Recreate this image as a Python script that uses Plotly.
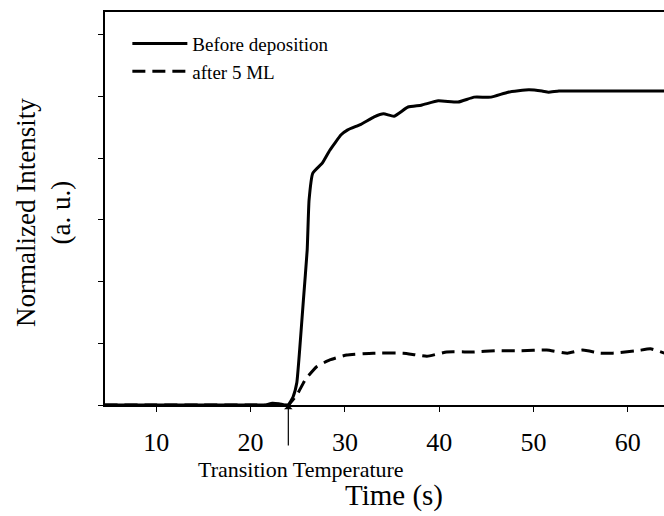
import plotly.graph_objects as go

# Solid curve: "Before deposition"
t_before = [4.5, 10, 15, 20, 21.5, 22.3, 23.0, 23.6, 24.0, 24.5, 24.9, 25.2, 25.6, 26.0, 26.2, 26.6,
            27.6, 28.4, 29.6, 30.3, 31.7, 33.1, 34.1, 35.2, 36.7, 38.1, 39.9, 42.0, 43.7,
            45.5, 47.3, 49.5, 50.9, 51.6, 52.7, 56.0, 60.0, 64.0]
v_before = [0.0, 0.0, 0.0, 0.0, 0.0, 0.03, 0.02, 0.0, 0.0, 0.13, 0.36, 0.89, 1.70, 2.51, 3.32, 3.76,
            3.92, 4.13, 4.38, 4.46, 4.55, 4.67, 4.72, 4.68, 4.83, 4.86, 4.93, 4.91, 4.99,
            4.99, 5.07, 5.11, 5.09, 5.07, 5.09, 5.09, 5.09, 5.09]

# Dashed curve: "after 5 ML"
t_after = [4.5, 10, 15, 20, 24.0, 24.2, 24.9, 25.8, 27.0, 28.4, 30.2, 33.0, 36.2, 38.7, 40.8, 43.6,
           46.1, 48.6, 51.4, 53.6, 55.2, 57.1, 58.4, 61.0, 62.4, 63.9]
v_after = [0.0, 0.0, 0.0, 0.0, 0.0, 0.03, 0.16, 0.41, 0.62, 0.73, 0.81, 0.84, 0.84, 0.79, 0.86, 0.86,
           0.88, 0.88, 0.89, 0.84, 0.89, 0.84, 0.84, 0.88, 0.91, 0.84]

x_ticks = [10, 20, 30, 40, 50, 60]
y_ticks = [0, 1, 2, 3, 4, 5, 6]
transition_t = 24.0

FONT = "Liberation Serif"

fig = go.Figure()
fig.add_trace(go.Scatter(x=t_before, y=v_before, mode="lines", name="Before deposition",
                         line=dict(color="black", width=3, shape="spline", smoothing=0.4)))
fig.add_trace(go.Scatter(x=t_after, y=v_after, mode="lines", name="after 5 ML",
                         line=dict(color="black", width=3, dash="13px,7px", shape="spline", smoothing=0.4)))

fig.update_layout(
    width=664, height=516,
    margin=dict(l=105, r=0, t=12, b=111),
    paper_bgcolor="white", plot_bgcolor="white",
    font=dict(family=FONT, color="black"),
    showlegend=True,
    legend=dict(x=0.04, y=0.968, xanchor="left", yanchor="top",
                font=dict(family=FONT, size=19, color="black"),
                bgcolor="rgba(0,0,0,0)", itemwidth=55),
    xaxis=dict(range=[4.56, 63.84], tickvals=x_ticks, ticktext=[str(v) for v in x_ticks],
               ticks="outside", ticklen=5, tickwidth=1, tickcolor="black",
               showline=True, linecolor="black", linewidth=1.5, mirror=True,
               showgrid=False, zeroline=False, ticklabelstandoff=8,
               tickfont=dict(family=FONT, size=26, color="black")),
    yaxis=dict(range=[0, 6.37], tickvals=y_ticks, showticklabels=False,
               ticks="outside", ticklen=5, tickwidth=1, tickcolor="black",
               showline=True, linecolor="black", linewidth=1.5, mirror=False,
               showgrid=False, zeroline=False),
    annotations=[
        dict(x=transition_t, y=0, xref="x", yref="y", text="", showarrow=True,
             arrowhead=1, arrowsize=1.2, arrowwidth=1.2, arrowcolor="black",
             ax=0, ay=42, standoff=0),
        dict(x=(301 - 105) / 559, y=(405 - 469) / 393, xref="paper", yref="paper",
             text="Transition Temperature", showarrow=False,
             font=dict(family=FONT, size=22, color="black"), xanchor="center", yanchor="middle"),
        dict(x=(394 - 105) / 559, y=(405 - 496) / 393, xref="paper", yref="paper",
             text="Time (s)", showarrow=False,
             font=dict(family=FONT, size=29, color="black"), xanchor="center", yanchor="middle"),
        dict(x=(43 - 105) / 559, y=(405 - 213) / 393, xref="paper", yref="paper",
             text="Normalized Intensity<br>(a. u.)", showarrow=False, textangle=-90,
             font=dict(family=FONT, size=27, color="black"), xanchor="center", yanchor="middle"),
    ],
)

fig.write_html("out.html")
